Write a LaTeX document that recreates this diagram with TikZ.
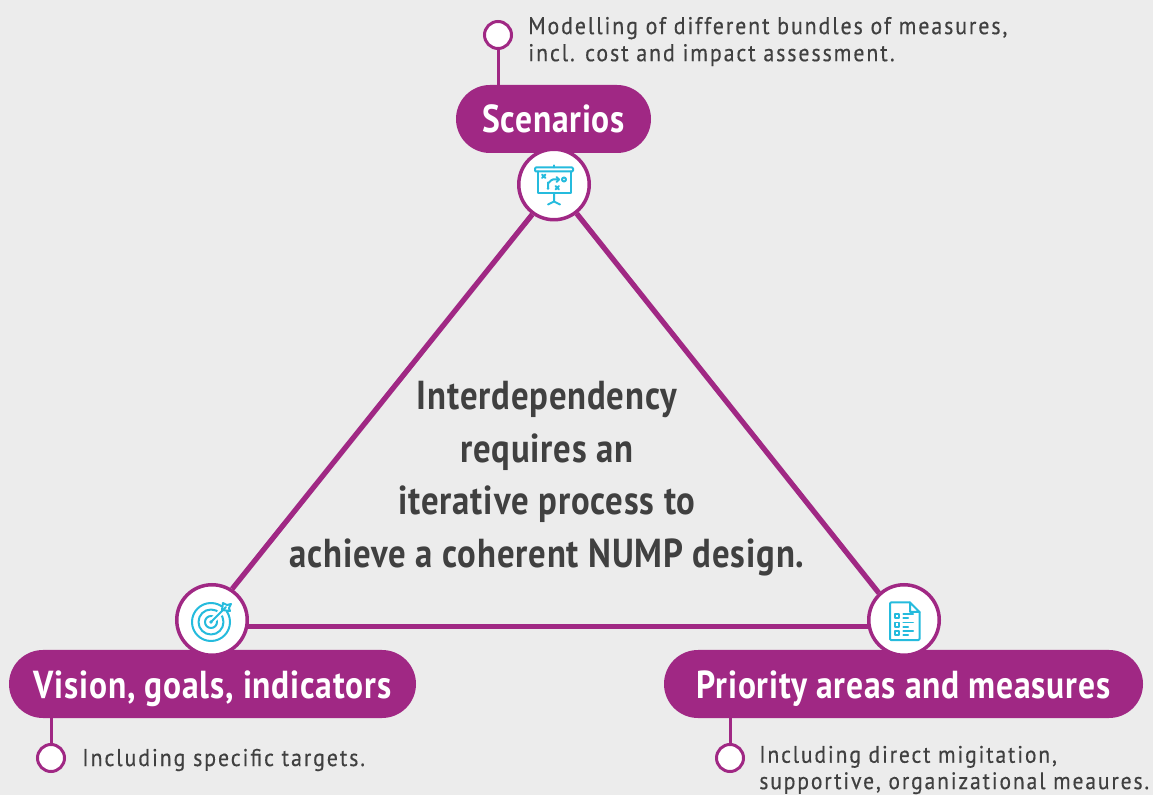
\documentclass[tikz,border=0pt]{standalone}
\usepackage{fontspec}
\setmainfont{PT Sans}
\newfontfamily\notefont[LetterSpace=8,FakeStretch=0.9,FakeBold=0.4]{PT Sans}
\newfontfamily\headfont[FakeStretch=0.86,LetterSpace=2]{PT Sans}
\usetikzlibrary{shapes.misc}
\definecolor{numppurple}{HTML}{A02884}
\definecolor{numpcyan}{HTML}{25BBDD}
\definecolor{numpgray}{HTML}{ECECEC}
\definecolor{numptext}{HTML}{404040}
\tikzset{
    pill/.style={rounded rectangle,fill=numppurple,text=white,minimum height=1.36cm,inner sep=0pt,text height=0.56cm,text depth=0pt,font=\headfont\bfseries\fontsize{22.2}{26}\selectfont},
    iconring/.style={circle,draw=numppurple,line width=0.07cm,fill=white,minimum size=1.41cm,inner sep=0pt},
    dotring/.style={circle,draw=numppurple,line width=0.06cm,fill=white,minimum size=0.54cm,inner sep=0pt},
    note/.style={align=left,anchor=west,inner sep=0pt,text=numptext,font=\notefont\fontsize{13.8}{15.4}\selectfont},
    edge/.style={numppurple,line width=0.105cm},
    stub/.style={numppurple,line width=0.06cm},
    icon/.style={numpcyan,line width=0.04cm,line cap=round,line join=round}
}
\begin{document}
\begin{tikzpicture}
    \fill[numpgray] (0,0) rectangle (23.06,15.9);
    \useasboundingbox (0,0) rectangle (23.06,15.9);
    \node[pill,minimum width=3.9cm] (scenarios) at (11.07,13.52) {Scenarios};
    \node[pill,minimum width=8.14cm] (vision) at (4.25,2.22) {Vision, goals, indicators};
    \node[pill,minimum width=9.58cm] (priority) at (18.07,2.22) {Priority areas and measures};
    \node[iconring] (scenariosicon) at (11.08,12.21) {};
    \node[iconring] (visionicon) at (4.24,3.5) {};
    \node[iconring] (priorityicon) at (18.08,3.5) {};
    \node[dotring] (scenariosdot) at (9.96,15.2) {};
    \node[dotring] (visiondot) at (1.02,0.74) {};
    \node[dotring] (prioritydot) at (14.6,0.74) {};
    \draw[edge] (scenariosicon.-126) -- (visionicon.57);
    \draw[edge] (scenariosicon.-52) -- (priorityicon.133);
    \draw[edge] (visionicon.-10) -- (priorityicon.190);
    \draw[stub] (scenariosdot) -- (scenariosdot |- scenarios.north);
    \draw[stub] (visiondot) -- (visiondot |- vision.south);
    \draw[stub] (prioritydot) -- (prioritydot |- priority.south);
    \node[note] (scenariosnote) at (10.56,15.07) {Modelling of different bundles of measures,\\incl. cost and impact assessment.};
    \node[note] (visionnote) at (1.64,0.70) {Including specific targets.};
    \node[note,font=\notefont\fontsize{13.6}{15}\selectfont] (prioritynote) at (15.18,0.5) {Including direct migitation,\\supportive, organizational meaures.};
    \node[align=center,text=numptext,inner sep=0pt,font=\headfont\bfseries\fontsize{23}{30}\selectfont] (centre) at (10.94,6.33) {Interdependency\\requires an\\iterative process to\\achieve a coherent NUMP design.};
    % icons, offsets in pixels of the reference
    \begin{scope}[shift={(scenariosicon.center)},x=0.02cm,y=-0.02cm,icon]
        \draw[rounded corners=0.02cm] (-19,-17) rectangle (19,-13);
        \draw (0,-19) -- (0,-17);
        \draw (-16.5,-13) -- (-16.5,9) -- (17,9) -- (17,-13);
        \draw (0,9) -- (0,17) -- (-6,20) (0,17) -- (6,20);
        \draw (-6,4) -- (-6,-2) to[out=-90,in=180] (-1,-5) -- (5,-5);
        \draw (2.5,-7.5) -- (5,-5) -- (2.5,-2.5);
        \fill (-6,4) circle (1.3);
        \draw (10,-5) circle (2);
        \draw (-12,-10) -- (-8.5,-6.5) (-12,-6.5) -- (-8.5,-10);
        \draw (1.5,1.5) -- (5,5) (1.5,5) -- (5,1.5);
    \end{scope}
    \begin{scope}[shift={(visionicon.center)},x=0.02cm,y=-0.02cm,icon]
        \draw (-1,2) circle (19);
        \draw (-1,2) circle (12.5);
        \draw (-1,2) circle (6);
        \draw[white,line width=0.12cm,line cap=butt] (-1,2) -- (14,-13);
        \fill (-1,2) circle (1.8);
        \draw (-1,2) -- (14,-13);
        \draw (10,-10) -- (11,-17) -- (15,-15) -- (19,-16) -- (17,-12) -- (18,-9) -- cycle;
    \end{scope}
    \begin{scope}[shift={(priorityicon.center)},x=0.02cm,y=-0.02cm,icon]
        \draw[rounded corners=0.02cm] (6,-17.5) -- (-14,-17.5) -- (-14,20) -- (15.5,20) -- (15.5,-8);
        \draw (6,-17.5) -- (15.5,-8) -- (6,-8) -- cycle;
        \foreach \y in {-5.5,2.5,10.5} {
            \draw (-9,\y) rectangle (-5,\y+4);
            \draw (-0.7,\y) -- (9,\y);
            \draw (-0.7,\y+4) -- (4,\y+4);
        }
    \end{scope}
\end{tikzpicture}
\end{document}
